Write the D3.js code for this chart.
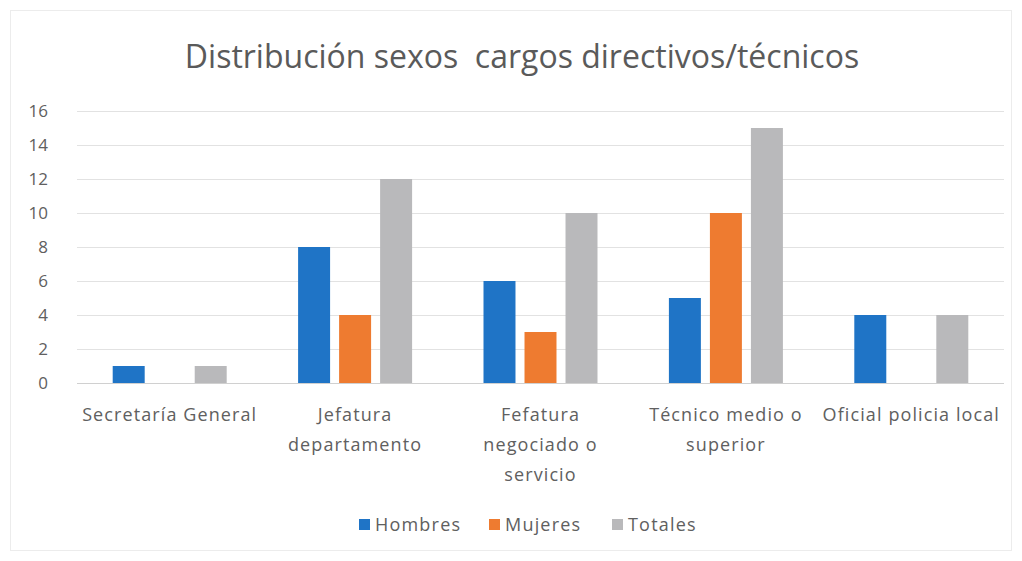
<!DOCTYPE html>
<html>
<head>
<meta charset="utf-8">
<script src="https://cdn.jsdelivr.net/npm/d3@7"></script>
<style>
  html, body { margin: 0; padding: 0; background: #ffffff; }
  svg { display: block; font-family: "Open Sans", "Liberation Sans", sans-serif; }
</style>
</head>
<body>
<svg id="chart" width="1022" height="561"></svg>
<script>
// Data
const categories = [
  ["Secretaría General"],
  ["Jefatura", "departamento"],
  ["Fefatura", "negociado o", "servicio"],
  ["Técnico medio o", "superior"],
  ["Oficial policia local"]
];
const seriesNames = ["Hombres", "Mujeres", "Totales"];
const hombres = [1, 8, 6, 5, 4];
const mujeres = [0, 4, 3, 10, 0];
const totales = [1, 12, 10, 15, 4];
const yTicks = [0, 2, 4, 6, 8, 10, 12, 14, 16];
const titleText = "Distribución sexos\u00a0 cargos directivos/técnicos";

const seriesValues = [hombres, mujeres, totales];
const colors = ["#1f74c6", "#ee7b30", "#b9b9bb"];
const textColor = "#606060";

const svg = d3.select("#chart");
const W = 1022, H = 561;

// chart frame
svg.append("rect")
  .attr("x", 10.5).attr("y", 10.5)
  .attr("width", W - 21).attr("height", H - 21)
  .attr("fill", "#fff").attr("stroke", "#ececec");

const plot = { left: 77, right: 1004, top: 111, bottom: 383 };

const catIdx = categories.map((d, i) => i);
const x0 = d3.scaleBand().domain(catIdx).range([plot.left, plot.right]).padding(0);
const groupW = 114;
const x1 = d3.scaleBand().domain(d3.range(seriesNames.length))
  .range([(x0.bandwidth() - groupW) / 2, (x0.bandwidth() + groupW) / 2])
  .paddingInner(0.22).paddingOuter(0);
const y = d3.scaleLinear().domain([0, 16]).range([plot.bottom, plot.top]);

// Title
svg.append("text")
  .attr("x", 522).attr("y", 68)
  .attr("text-anchor", "middle")
  .attr("font-size", 32)
  .attr("fill", "#5a5a5a")
  .text(titleText);

// Gridlines and value axis
const yAxis = d3.axisLeft(y).tickValues(yTicks).tickSize(-(plot.right - plot.left)).tickPadding(29).tickFormat(d3.format("d"));
const gy = svg.append("g").attr("transform", `translate(${plot.left},0)`).call(yAxis);
gy.select(".domain").remove();
gy.selectAll(".tick line").attr("stroke", "#e2e2e2").attr("stroke-width", 1);
gy.selectAll(".tick text").attr("fill", textColor).attr("font-size", 17)
  .attr("font-family", "'Open Sans', sans-serif");
gy.selectAll(".tick").filter(d => d === 0).select("line").attr("stroke", "#d0d0d0");

// Bars
const groups = svg.append("g").selectAll("g")
  .data(catIdx).join("g")
  .attr("transform", i => `translate(${x0(i)},0)`);
groups.selectAll("rect")
  .data(i => seriesValues.map((vals, s) => ({ s, v: vals[i] })).filter(d => d.v > 0))
  .join("rect")
  .attr("x", d => x1(d.s))
  .attr("width", x1.bandwidth())
  .attr("y", d => y(d.v))
  .attr("height", d => y(0) - y(d.v))
  .attr("fill", d => colors[d.s]);

// Category labels
const xl = svg.append("g");
categories.forEach((lines, i) => {
  const cx = x0(i) + x0.bandwidth() / 2;
  const t = xl.append("text")
    .attr("x", cx)
    .attr("y", 421)
    .attr("text-anchor", "middle")
    .attr("font-size", 18)
    .attr("letter-spacing", 1.1)
    .attr("fill", textColor);
  lines.forEach((ln, k) => {
    t.append("tspan").attr("x", cx)
      .attr("dy", k === 0 ? 0 : 30).text(ln);
  });
});

// Legend
const legendX = [359, 489, 612];
const lg = svg.append("g");
seriesNames.forEach((name, s) => {
  lg.append("rect").attr("x", legendX[s]).attr("y", 519)
    .attr("width", 11).attr("height", 11).attr("fill", colors[s]);
  lg.append("text").attr("x", legendX[s] + 16).attr("y", 531)
    .attr("font-size", 18).attr("letter-spacing", 1.2)
    .attr("fill", textColor).text(name);
});
</script>
</body>
</html>
